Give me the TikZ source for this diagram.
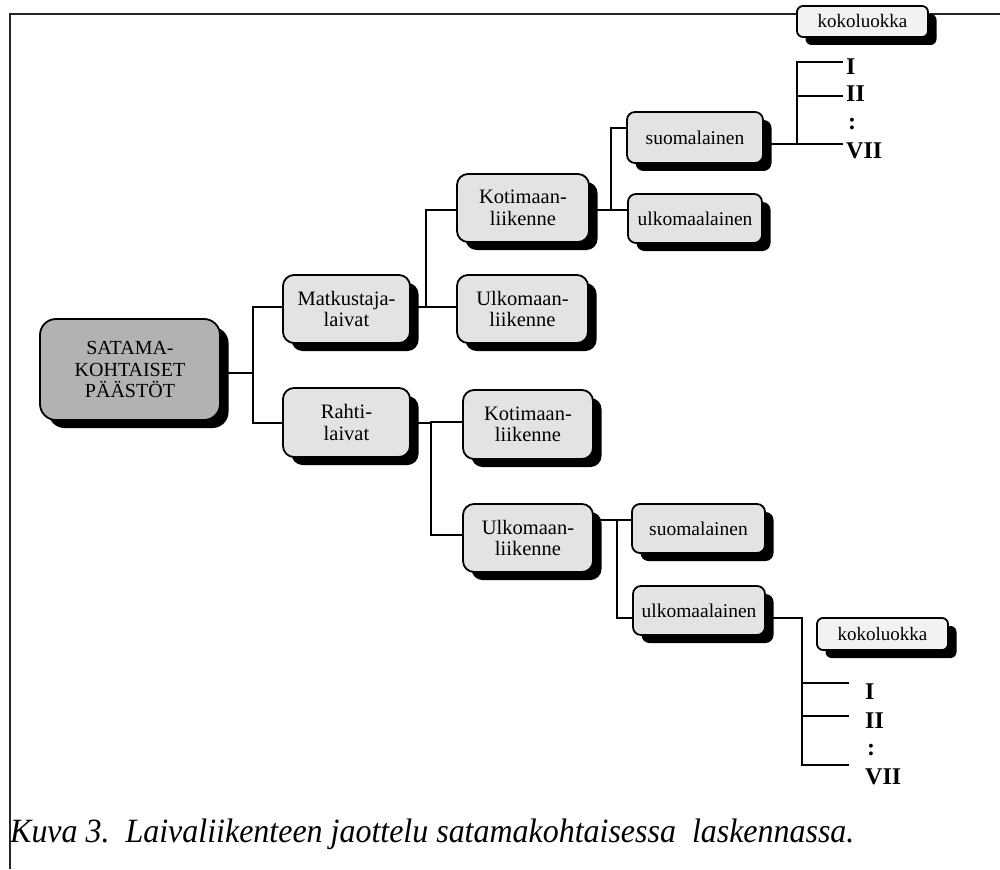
\documentclass[tikz,border=0pt]{standalone}
\usepackage{fontspec}
\setmainfont{Liberation Serif}
\usetikzlibrary{shadows}
\pgfdeclarelayer{background}
\pgfsetlayers{background,main}
\begin{document}
\begin{tikzpicture}[x=1pt,y=-1pt,
  box/.style={draw=black, line width=1.8pt, rounded corners=11pt, fill=gray!22,
    inner sep=0pt, align=center, font=\fontsize{20.5}{21.5}\selectfont,
    drop shadow={shadow xshift=8.5pt, shadow yshift=-8pt, fill=black, opacity=1}},
  rootbox/.style={box, fill=gray!60, rounded corners=16pt, font=\fontsize{20}{21.5}\selectfont},
  smallbox/.style={box, rounded corners=8pt, font=\fontsize{19.5}{21}\selectfont},
  sizebox/.style={box, fill=gray!10, rounded corners=6pt, font=\fontsize{19}{21}\selectfont},
  link/.style={line width=1.8pt, black},
  roman/.style={anchor=west, inner sep=0pt, font=\fontsize{24}{24}\selectfont\bfseries},
  frame/.style={line width=1.3pt, black!85}]
\useasboundingbox (0,0) rectangle (1000,869);

% level 0
\node[rootbox, minimum width=180pt, minimum height=101pt] (sat) at (130,369.5)
  {SATAMA-\\KOHTAISET\\PÄÄSTÖT};
% level 1
\node[box, minimum width=127pt, minimum height=68pt] (mat) at (346.5,309) {Matkustaja-\\laivat};
\node[box, minimum width=127pt, minimum height=69pt] (rah) at (346.5,422.5) {Rahti-\\laivat};
% level 2
\node[box, minimum width=132pt, minimum height=68pt] (kot1) at (523,208) {Kotimaan-\\liikenne};
\node[box, minimum width=131pt, minimum height=68pt] (ulk1) at (522.5,309) {Ulkomaan-\\liikenne};
\node[box, minimum width=130pt, minimum height=69pt] (kot2) at (528,424.5) {Kotimaan-\\liikenne};
\node[box, minimum width=130pt, minimum height=68pt] (ulk2) at (528,538) {Ulkomaan-\\liikenne};
% level 3
\node[smallbox, minimum width=136pt, minimum height=51pt] (suo1) at (695,137.5) {suomalainen};
\node[smallbox, minimum width=134pt, minimum height=49pt] (ulm1) at (695,218.5) {ulkomaalainen};
\node[smallbox, minimum width=133pt, minimum height=49pt] (suo2) at (698.5,528.5) {suomalainen};
\node[smallbox, minimum width=132pt, minimum height=49pt] (ulm2) at (699,610.5) {ulkomaalainen};
% size classes
\node[sizebox, minimum width=131pt, minimum height=31pt] (kok1) at (862.5,21.5) {kokoluokka};
\node[sizebox, minimum width=131pt, minimum height=32pt] (kok2) at (882.5,634) {kokoluokka};

% class labels
\node[roman] (r1) at (846,67) {I};
\node[roman] (r2) at (846,94) {II};
\node[roman] (r3) at (848,124) {:};
\node[roman] (r4) at (846,151) {VII};
\node[roman] (s1) at (865,692) {I};
\node[roman] (s2) at (865,721) {II};
\node[roman] (s3) at (867,750) {:};
\node[roman] (s4) at (865,777) {VII};

% junctions and line ends
\coordinate (j0) at (253,373);
\coordinate (j1) at (426,307);
\coordinate (j2) at (431,423);
\coordinate (j3) at (611,210);
\coordinate (j4) at (617,520);
\coordinate (j5) at (797,144);
\coordinate (j6) at (802,618);
\coordinate (t1) at (843,62);
\coordinate (t2) at (843,96);
\coordinate (t4) at (843,144);
\coordinate (u1) at (849,683);
\coordinate (u2) at (849,716);
\coordinate (u4) at (849,765);

\begin{pgfonlayer}{background}
  % page frame
  \draw[frame] (10,869) -- (10,14) -- (1000,14);
  % tree connectors
  \draw[link] (sat.east |- j0) -- (j0);
  \draw[link] (mat.west |- 0,307) -| (j0) |- (rah.west |- j2);
  \draw[link] (mat.east |- j1) -- (j1);
  \draw[link] (kot1.west |- j3) -| (j1) |- (ulk1.west |- j1);
  \draw[link] (rah.east |- j2) -- (j2);
  \draw[link] (kot2.west |- 0,422) -| (j2) |- (ulk2.west |- 0,535);
  \draw[link] (kot1.east |- j3) -- (j3);
  \draw[link] (suo1.west |- 0,128) -| (j3) -- (ulm1.west |- j3);
  \draw[link] (ulk2.east |- j4) -- (j4) -- (suo2.west |- j4);
  \draw[link] (j4) |- (ulm2.west |- j6);
  \draw[link] (suo1.east |- j5) -- (j5);
  \draw[link] (t1) -| (j5) -- (t4);
  \draw[link] (j5 |- t2) -- (t2);
  \draw[link] (ulm2.east |- j6) -- (j6) |- (u4);
  \draw[link] (j6 |- u1) -- (u1);
  \draw[link] (j6 |- u2) -- (u2);
\end{pgfonlayer}

% caption
\node[anchor=base west, inner sep=0pt, font=\fontsize{34}{34}\selectfont\itshape] (cap) at (10,842)
  {\scalebox{0.94}[1]{Kuva 3.\ \ Laivaliikenteen jaottelu satamakohtaisessa\ \ laskennassa.}};
\end{tikzpicture}
\end{document}
